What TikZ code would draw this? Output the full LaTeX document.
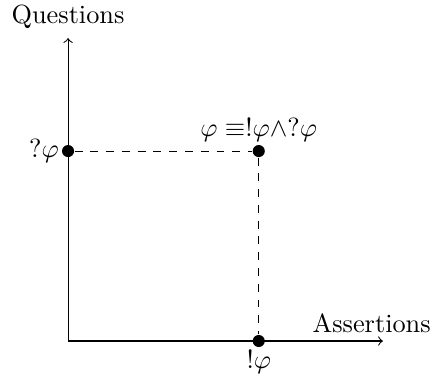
\documentclass[tikz,border=0pt]{standalone}
\usepackage{tikz}
\begin{document}
\begin{tikzpicture}[every node/.style={font=\normalsize}, dot/.style={circle,fill,inner sep=0pt,minimum size=4.6pt}]
  \useasboundingbox (-0.91,-0.495) rectangle (4.88,4.56);
  \coordinate (o) at (0,0);
  \coordinate (xend) at (4.21,0);
  \coordinate (yend) at (0,4.05);
  \draw[->] (o) -- (xend);
  \draw[->] (o) -- (yend);
  \node (xlab) at (4.06,0.24) {Assertions};
  \node (ylab) at (0,4.33) {Questions};
  \node[dot] (q) at (0,2.54) {};
  \node[dot] (phi) at (2.55,2.54) {};
  \node[dot] (a) at (2.55,0) {};
  \draw[dashed] (q) -- (phi);
  \draw[dashed] (phi) -- (a);
  \node[left] (qlab) at (q.center) {$?\varphi$};
  \node[above] (philab) at (phi.center) {$\varphi \equiv !\varphi \wedge ?\varphi$};
  \node[below] (alab) at (a.center) {$!\varphi$};
\end{tikzpicture}
\end{document}
